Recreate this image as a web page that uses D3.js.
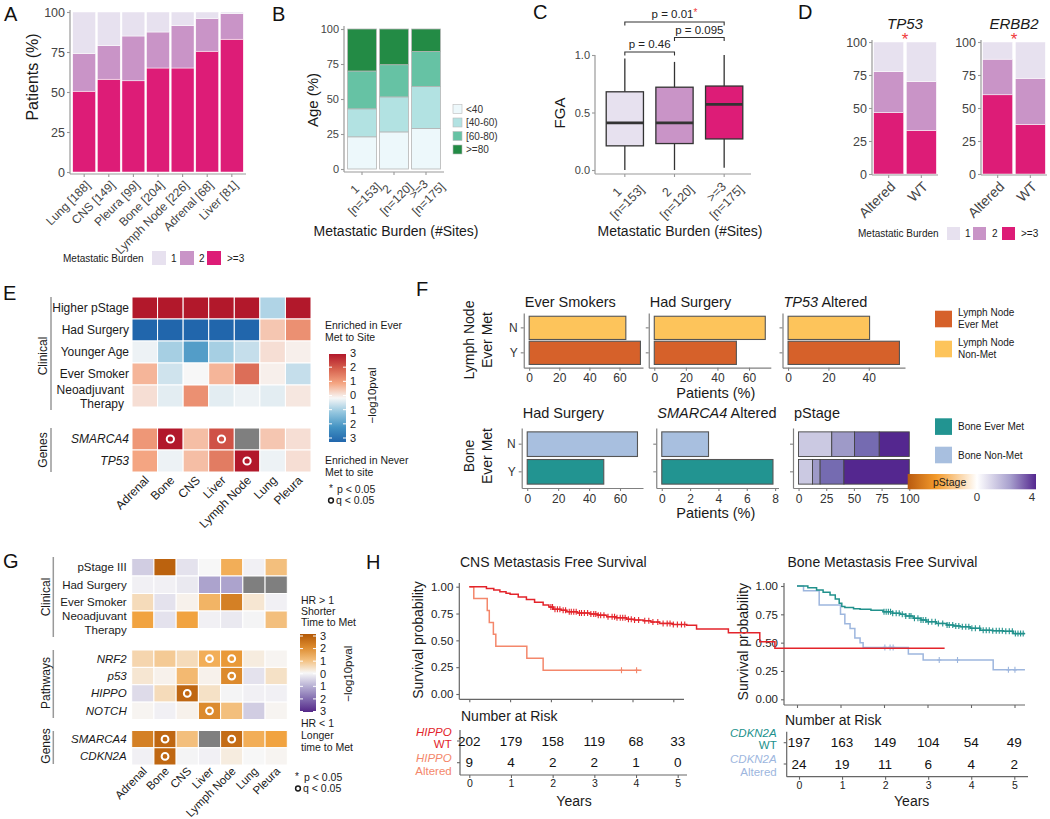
<!DOCTYPE html>
<html><head><meta charset="utf-8">
<script src="https://cdn.jsdelivr.net/npm/d3@7"></script>
<style>
html,body{margin:0;padding:0;background:#fff;}
svg{display:block;font-family:"Liberation Sans",Arial,Helvetica,sans-serif;}
</style></head><body>
<svg id="fig" width="1050" height="819"></svg>
<script>
// ================= DATA =================
const burdenKeys = ["1","2",">=3"];
const burdenColorList = ["#e7e1ef","#c994c7","#dd1c77"];
const pctTicks = [0,25,50,75,100];

// A
const sitesA = ["Lung [188]","CNS [149]","Pleura [99]","Bone [204]","Lymph Node [226]","Adrenal [68]","Liver [81]"];
const aPct1 = [26,21,15,12.5,8.5,4,1];
const aPct2 = [23.5,21,28,22.5,26.5,20.5,16];
const aPct3 = [50.5,58,57,65,65,75.5,83];

// B
const burdenCats = ["1","2",">=3"];
const burdenNs = ["[n=153]","[n=120]","[n=175]"];
const ageKeys = ["<40","[40-60)","[60-80)",">=80"];
const ageColors = ["#edf8fb","#b2e2e2","#66c2a4","#238b45"];
const ageLt40 = [23,26.5,29];
const age40to60 = [20,25,30];
const age60to80 = [27,23,25];
const ageGe80 = [30,25.5,16];

// C
const fgaMin = [0.0,0.0,0.02];
const fgaQ1 = [0.21,0.23,0.27];
const fgaMed = [0.41,0.41,0.57];
const fgaQ3 = [0.68,0.72,0.73];
const fgaMax = [0.97,0.94,1.0];
const fgaTicks = [0,0.5,1];
const pFrom = [0,1,0];
const pTo = [1,2,2];
const pText = ["p = 0.46","p = 0.095","p = 0.01"];
const pSig = [false,false,true];

// D
const genesD = ["TP53","ERBB2"];
const statusD = ["Altered","WT"];
const tp53Pct1 = [22.5,30], tp53Pct2 = [31,37], tp53Pct3 = [46.5,33];
const erbb2Pct1 = [13,27.5], erbb2Pct2 = [27,35], erbb2Pct3 = [60,37.5];

// E
const sitesE = ["Adrenal","Bone","CNS","Liver","Lymph Node","Lung","Pleura"];
const clinRowsE = ["Higher pStage","Had Surgery","Younger Age","Ever Smoker","Neoadjuvant\nTherapy"];
const clinValsE = [
 [3,3,3,3,3,-0.7,3],
 [-3,-3,-3,-3,-3,0.6,1.3],
 [-0.1,-0.8,-1.8,-0.8,-0.5,0.3,0.1],
 [0.8,-0.4,0,0.8,1.8,0.1,-0.5],
 [0.3,-0.2,1.3,-0.2,-0.1,-0.2,0.2]];
const geneRowsE = ["SMARCA4","TP53"];
const geneValsE = [[1.2,3,0.7,2.2,null,0.6,0.3],[1.0,-0.1,0.7,1.6,3,-0.1,0.3]];
const geneSigE = [[0,1,0,1,0,0,0],[0,0,0,0,1,0,0]];
const legendTicks = [3,2,1,0,-1,-2,-3];

// F
const lnPanelTitles = ["Ever Smokers","Had Surgery","TP53 Altered"];
const lnNonMet = [64.2,70.3,40.4];
const lnEverMet = [73.9,52,55.2];
const bonePanelTitles = ["Had Surgery","SMARCA4 Altered","pStage"];
const boneNonMet = [71.3,3.3];
const boneEverMet = [49.5,7.85];
const pstageNonMet = [30,20.6,22.3,27.1];
const pstageEverMet = [12.6,6.9,21.5,59];
const lnColors = ["#fdc45b","#d6612a"];
const boneColors = ["#a8bfdf","#229491"];
const pstageColors = ["#cbc9e2","#9e9ac8","#756bb1","#54278f"];

// G
const clinRowsG = ["pStage III","Had Surgery","Ever Smoker","Neoadjuvant\nTherapy"];
const clinValsG = [
 [-0.6,2.8,-0.3,0,1.3,-0.1,1.0],
 [-0.1,-0.1,-0.2,-1.2,-1.2,null,null],
 [0.5,-0.3,0.1,1.2,2.2,0.3,-0.1],
 [1.5,-0.3,1.5,-0.1,-0.2,-0.05,1.0]];
const pathRowsG = ["NRF2","p53","HIPPO","NOTCH"];
const pathValsG = [
 [0.6,0.8,0.5,1.3,1.7,0.2,0.05],
 [0.3,0.1,1.1,0.1,2.0,-0.3,0.4],
 [-0.4,0.5,2.7,0.4,-0.05,-0.1,-0.1],
 [0.05,-0.1,0.1,2.0,1.0,-0.6,0.05]];
const pathSigG = [[0,0,0,1,1,0,0],[0,0,0,0,1,0,0],[0,0,1,0,0,0,0],[0,0,0,1,0,0,0]];
const geneRowsG = ["SMARCA4","CDKN2A"];
const geneValsG = [[2.2,2.7,1.0,null,2.6,1.3,1.5],[-0.1,2.7,-0.05,-0.1,0.2,0,0.05]];
const geneSigG = [[0,1,0,0,1,0,0],[0,1,0,0,0,0,0]];

// H
const riskYears = [0,1,2,3,4,5];
const survTicks = [0,0.25,0.5,0.75,1];
const cnsWtTimes = [0,0.42,0.6,0.75,0.9,1.0,1.2,1.4,1.6,1.81,1.95,2.06,2.25,2.39,2.65,2.96,3.15,3.37,3.6,3.86,4.05,4.26,4.45,4.67,5.0,5.33,5.57,6.35,7.12,7.49,11.65];
const cnsWtSurv = [1.0,0.984,0.97,0.953,0.94,0.93,0.905,0.88,0.855,0.83,0.81,0.79,0.78,0.767,0.755,0.745,0.735,0.72,0.71,0.696,0.69,0.683,0.67,0.658,0.648,0.64,0.606,0.571,0.487,0.426,0.426];
const cnsWtCens = [2.0,2.04,2.1,2.16,2.22,2.3,2.36,2.45,2.5,2.56,2.62,2.7,2.75,2.82,2.9,2.98,3.05,3.1,3.16,3.22,3.3,3.4,3.5,3.56,3.62,3.7,3.76,3.82,3.9,3.97,4.05,4.15,4.3,4.4,4.5,4.62,4.75,4.85,4.92,5.0,5.1,5.2,5.28];
const cnsAltTimes = [0,0.11,0.44,0.49,0.59,0.65,1.41,1.81,4.22];
const cnsAltSurv = [1,0.889,0.778,0.667,0.556,0.444,0.333,0.222,0.222];
const cnsAltCens = [3.73,4.1];
const cnsRiskWT = [202,179,158,119,68,33];
const cnsRiskAlt = [9,4,2,2,1,0];
const boneWtTimes = [0,0.25,0.45,0.6,0.76,0.88,0.97,1.03,1.1,1.3,1.45,1.7,1.98,2.2,2.37,2.5,2.67,2.85,2.98,3.2,3.44,3.6,3.75,3.98,4.21,4.5,4.74,4.97,5.24];
const boneWtSurv = [1,0.985,0.965,0.945,0.92,0.885,0.847,0.82,0.81,0.8,0.794,0.785,0.773,0.76,0.75,0.735,0.715,0.7,0.685,0.67,0.656,0.648,0.64,0.627,0.61,0.605,0.6,0.58,0.58];
const boneWtCens = [2.0,2.05,2.1,2.15,2.2,2.28,2.35,2.42,2.5,2.58,2.62,2.7,2.78,2.85,2.9,2.96,3.02,3.1,3.18,3.25,3.35,3.45,3.5,3.58,3.65,3.72,3.8,3.88,3.95,4.02,4.1,4.2,4.28,4.35,4.42,4.5,4.58,4.65,4.72,4.8,4.88,4.95,5.02,5.08,5.14,5.2];
const boneAltTimes = [0,0.15,0.51,1.0,1.1,1.22,1.33,1.45,1.52,2.56,2.9,4.51,5.24];
const boneAltSurv = [1,0.958,0.833,0.75,0.667,0.625,0.542,0.5,0.458,0.4,0.347,0.26,0.26];
const boneAltCens = [2.02,2.14,2.21,3.27,3.69,4.86,5.01];
const boneRiskWT = [197,163,149,104,54,49];
const boneRiskAlt = [24,19,11,6,4,2];

// ================= HELPERS =================
const svg = d3.select("#fig");
svg.append("rect").attr("width",1050).attr("height",819).attr("fill","#fff");
const defs = svg.append("defs");
const TXT = "#444", AX = "#999", BLK = "#1a1a1a";

function T(g,x,y,s,o={}){
  const t = g.append("text").attr("x",x).attr("y",y).text(s)
    .attr("font-size",o.size||12).attr("fill",o.fill||BLK)
    .attr("text-anchor",o.anchor||"start");
  if(o.dy) t.attr("dy",o.dy);
  if(o.italic) t.attr("font-style","italic");
  if(o.rotate!=null) t.attr("transform",`rotate(${o.rotate},${x},${y})`);
  return t;
}
function L(g,x1,y1,x2,y2,c,w){
  return g.append("line").attr("x1",x1).attr("y1",y1).attr("x2",x2).attr("y2",y2)
    .attr("stroke",c||AX).attr("stroke-width",w||1);
}
function styleAxis(a,fs,col,lc){
  a.attr("font-family",null).attr("font-size",fs);
  a.select(".domain").attr("stroke",lc).attr("stroke-width",1.2);
  a.selectAll(".tick line").attr("stroke",lc).attr("stroke-width",1.1);
  a.selectAll(".tick text").attr("fill",col);
  return a;
}
function vGrad(id,colors){
  const lg = defs.append("linearGradient").attr("id",id).attr("x1",0).attr("y1",0).attr("x2",0).attr("y2",1);
  colors.forEach((c,i)=>lg.append("stop").attr("offset",i/(colors.length-1)).attr("stop-color",c));
}
function twoLineTicks(ax,second,dx,dy){
  ax.selectAll(".tick text").each(function(d,i){
    const t = d3.select(this);
    t.text(null).attr("x",0).attr("y",0).attr("dy",null).attr("text-anchor","middle");
    t.append("tspan").attr("x",0).attr("dy","0.8em").text(d);
    t.append("tspan").attr("x",0).attr("dy","1.15em").text(second[i]);
    const w = this.getBBox().width;
    t.attr("transform",`translate(${dx},${dy}) rotate(-45) translate(${-w/2},0)`);
  });
}
function stackBars(g,keys,colors,rows,x,y,stroke,sw){
  const st = d3.stack().keys(keys)(rows);
  g.append("g").selectAll("g").data(st).join("g").attr("fill",d=>colors[keys.indexOf(d.key)])
    .selectAll("rect").data(d=>d).join("rect")
    .attr("x",d=>x(d.data.k)).attr("width",x.bandwidth())
    .attr("y",d=>y(d[1])).attr("height",d=>y(d[0])-y(d[1]))
    .attr("stroke",stroke).attr("stroke-width",sw);
}
function panelLabel(x,y,s){ T(svg,x,y,s,{size:20,fill:"#111"}); }

panelLabel(4,21,"A"); panelLabel(272,21,"B"); panelLabel(533,19,"C"); panelLabel(798,19,"D");
panelLabel(3,300,"E"); panelLabel(416,296,"F"); panelLabel(3,568,"G"); panelLabel(366,569,"H");

// ================= PANEL A =================
{
  const g = svg.append("g");
  const x = d3.scaleBand().domain(sitesA).range([72,244]).paddingInner(0.07).paddingOuter(0.03);
  const y = d3.scaleLinear().domain([0,100]).range([172,12]);
  const rows = sitesA.map((s,i)=>({k:s,"1":aPct1[i],"2":aPct2[i],">=3":aPct3[i]}));
  stackBars(g,[">=3","2","1"],[burdenColorList[2],burdenColorList[1],burdenColorList[0]],rows,x,y,"#fff",0.5);
  const ya = g.append("g").attr("transform","translate(70,0)").call(d3.axisLeft(y).tickValues(pctTicks).tickSize(3).tickPadding(2));
  styleAxis(ya,12.5,TXT,AX); ya.select(".domain").remove();
  L(g,70,10,70,174,AX,1.2);
  const xa = g.append("g").attr("transform","translate(0,174)").call(d3.axisBottom(x).tickSize(3).tickSizeOuter(0));
  styleAxis(xa,12,TXT,AX); xa.select(".domain").remove();
  L(g,70,174,246,174,AX,1.2);
  xa.selectAll(".tick text").attr("text-anchor","end").attr("x",0).attr("y",0).attr("dy","0.35em")
    .attr("transform","translate(4,9) rotate(-45)");
  T(g,32,77,"Patients (%)",{size:16,anchor:"middle",rotate:-90,dy:"0.35em"});
  T(g,63,258,"Metastatic Burden",{size:10,dy:"0.35em"});
  const lx=[152,180,207], ltx=[171,199,227];
  burdenKeys.forEach((k,i)=>{
    g.append("rect").attr("x",lx[i]).attr("y",251).attr("width",14).attr("height",14).attr("fill",burdenColorList[i]);
    T(g,ltx[i],258,k,{size:10,dy:"0.35em"});
  });
}

// ================= PANEL B =================
{
  const g = svg.append("g");
  const x = d3.scaleBand().domain(burdenCats).range([346,442]).paddingInner(0.1).paddingOuter(0.05);
  const y = d3.scaleLinear().domain([0,100]).range([169,29]);
  const rows = burdenCats.map((c,i)=>({k:c,"<40":ageLt40[i],"[40-60)":age40to60[i],"[60-80)":age60to80[i],">=80":ageGe80[i]}));
  stackBars(g,ageKeys,ageColors,rows,x,y,"#b5b5b5",0.8);
  const ya = g.append("g").attr("transform","translate(344,0)").call(d3.axisLeft(y).tickValues(pctTicks).tickSize(3).tickPadding(2));
  styleAxis(ya,11,TXT,AX); ya.select(".domain").remove();
  L(g,344,26,344,172,AX,1.2);
  const xa = g.append("g").attr("transform","translate(0,172)").call(d3.axisBottom(x).tickSize(3).tickSizeOuter(0));
  styleAxis(xa,12,TXT,AX); xa.select(".domain").remove();
  L(g,344,172,444,172,AX,1.2);
  twoLineTicks(xa,burdenNs,3,-1);
  T(g,313,100,"Age (%)",{size:15,anchor:"middle",rotate:-90,dy:"0.35em"});
  T(g,396,231,"Metastatic Burden (#Sites)",{size:14,anchor:"middle",dy:"0.35em"});
  const ly=[104.5,118,131.5,145];
  ageKeys.forEach((k,i)=>{
    g.append("rect").attr("x",453).attr("y",ly[i]).attr("width",9).attr("height",9).attr("fill",ageColors[i]).attr("stroke","#bbb").attr("stroke-width",0.6);
    T(g,466,ly[i]+4.5,k,{size:10,dy:"0.35em",fill:"#333"});
  });
}

// ================= PANEL C =================
{
  const g = svg.append("g");
  const x = d3.scaleBand().domain(burdenCats).range([600,749]).paddingInner(0.25).paddingOuter(0.125);
  const y = d3.scaleLinear().domain([0,1]).range([170,55]);
  const boxes = burdenCats.map((c,i)=>({c,i,min:fgaMin[i],q1:fgaQ1[i],med:fgaMed[i],q3:fgaQ3[i],max:fgaMax[i]}));
  const cx = d=>x(d.c)+x.bandwidth()/2;
  g.selectAll(".wl").data(boxes).join("line").attr("x1",cx).attr("x2",cx).attr("y1",d=>y(d.min)).attr("y2",d=>y(d.q1)).attr("stroke","#333").attr("stroke-width",1.3);
  g.selectAll(".wu").data(boxes).join("line").attr("x1",cx).attr("x2",cx).attr("y1",d=>y(d.q3)).attr("y2",d=>y(d.max)).attr("stroke","#333").attr("stroke-width",1.3);
  g.selectAll(".bx").data(boxes).join("rect").attr("x",d=>x(d.c)).attr("width",x.bandwidth())
    .attr("y",d=>y(d.q3)).attr("height",d=>y(d.q1)-y(d.q3)).attr("fill",d=>burdenColorList[d.i]).attr("stroke","#333").attr("stroke-width",1.3);
  g.selectAll(".md").data(boxes).join("line").attr("x1",d=>x(d.c)).attr("x2",d=>x(d.c)+x.bandwidth()).attr("y1",d=>y(d.med)).attr("y2",d=>y(d.med)).attr("stroke","#333").attr("stroke-width",2.8);
  const ya = g.append("g").attr("transform","translate(595,0)").call(d3.axisLeft(y).tickValues(fgaTicks).tickFormat(d3.format(".1f")).tickSize(3).tickPadding(2));
  styleAxis(ya,11,TXT,AX); ya.select(".domain").remove();
  L(g,595,55,595,174,AX,1.2);
  const xa = g.append("g").attr("transform","translate(0,174)").call(d3.axisBottom(x).tickSize(3).tickSizeOuter(0));
  styleAxis(xa,12.5,TXT,AX); xa.select(".domain").remove();
  L(g,595,174,751,174,AX,1.2);
  twoLineTicks(xa,burdenNs,3,-1);
  T(g,560,113,"FGA",{size:15,anchor:"middle",rotate:-90,dy:"0.35em"});
  T(g,680,231,"Metastatic Burden (#Sites)",{size:14,anchor:"middle",dy:"0.35em"});
  const by=[52,37.5,22];
  pText.forEach((s,k)=>{
    const x1 = x(burdenCats[pFrom[k]])+x.bandwidth()/2, x2 = x(burdenCats[pTo[k]])+x.bandwidth()/2;
    g.append("path").attr("d",`M${x1},${by[k]+3.5}V${by[k]}H${x2}V${by[k]+3.5}`).attr("fill","none").attr("stroke","#333").attr("stroke-width",1.1);
    const t = T(g,(x1+x2)/2,by[k]-4,s,{size:11.5,anchor:"middle",fill:"#222"});
    if(pSig[k]) t.append("tspan").attr("fill","#f03b3b").attr("font-size",10).attr("dy","-2").text("*");
  });
}

// ================= PANEL D =================
function panelD(g,o){
  const x = d3.scaleBand().domain(statusD).range(o.xr).paddingInner(0.08).paddingOuter(0.02);
  const y = d3.scaleLinear().domain([0,100]).range([174,42]);
  const rows = statusD.map((s,i)=>({k:s,"1":o.p1[i],"2":o.p2[i],">=3":o.p3[i]}));
  stackBars(g,[">=3","2","1"],[burdenColorList[2],burdenColorList[1],burdenColorList[0]],rows,x,y,"#fff",0.5);
  const ya = g.append("g").attr("transform",`translate(${o.ax},0)`).call(d3.axisLeft(y).tickValues(pctTicks).tickSize(3).tickPadding(2));
  styleAxis(ya,12.5,TXT,AX); ya.select(".domain").remove();
  L(g,o.ax,40,o.ax,175,AX,1.2);
  const xa = g.append("g").attr("transform","translate(0,175)").call(d3.axisBottom(x).tickSize(3).tickSizeOuter(0));
  styleAxis(xa,14,TXT,AX); xa.select(".domain").remove();
  L(g,o.ax,175,o.xr[1]+1,175,AX,1.2);
  xa.selectAll(".tick text").attr("text-anchor","end").attr("x",0).attr("y",0).attr("dy","0.35em")
    .attr("transform","translate(4,9) rotate(-45)");
  const tx = (o.xr[0]+o.xr[1])/2;
  T(g,tx,28.5,o.gene,{size:15,anchor:"middle",italic:true});
  T(g,tx,45,"*",{size:17,anchor:"middle",fill:"#f03b3b"});
}
panelD(svg.append("g"),{gene:genesD[0],p1:tp53Pct1,p2:tp53Pct2,p3:tp53Pct3,ax:872,xr:[873,937]});
panelD(svg.append("g"),{gene:genesD[1],p1:erbb2Pct1,p2:erbb2Pct2,p3:erbb2Pct3,ax:981,xr:[982,1046]});
{
  const g = svg.append("g");
  T(g,858,233,"Metastatic Burden",{size:10,dy:"0.35em"});
  const lx=[947,973,1002], ltx=[965,992,1021];
  burdenKeys.forEach((k,i)=>{
    g.append("rect").attr("x",lx[i]).attr("y",227).attr("width",13).attr("height",13).attr("fill",burdenColorList[i]);
    T(g,ltx[i],233,k,{size:10,dy:"0.35em"});
  });
}

// ================= HEATMAPS (E, G) =================
function heatmap(g,o){
  const x = d3.scaleBand().domain(o.cols).range(o.colRange);
  o.groups.forEach(gr=>{
    const y = d3.scaleBand().domain(gr.rows).range(gr.range);
    const cells = [];
    gr.rows.forEach((r,i)=>o.cols.forEach((c,j)=>cells.push({r,c,v:gr.vals[i][j],s:gr.sig?gr.sig[i][j]:0})));
    const gg = g.append("g");
    gg.selectAll("rect").data(cells).join("rect")
      .attr("x",d=>x(d.c)).attr("y",d=>y(d.r)).attr("width",x.bandwidth()).attr("height",y.bandwidth())
      .attr("fill",d=>d.v==null?"#7f7f7f":o.color(d.v)).attr("stroke","#fff").attr("stroke-width",1);
    gg.selectAll("circle").data(cells.filter(d=>d.s)).join("circle")
      .attr("cx",d=>x(d.c)+x.bandwidth()/2).attr("cy",d=>y(d.r)+y.bandwidth()/2).attr("r",o.r)
      .attr("fill","none").attr("stroke","#fff").attr("stroke-width",2);
    gr.rows.forEach(r=>{
      const lines = r.split("\n"); const cy = y(r)+y.bandwidth()/2;
      if(lines.length===1) T(g,o.labelRight,cy,r,{size:o.fs,anchor:"end",dy:"0.35em",italic:gr.italic});
      else lines.forEach((ln,k)=>T(g,o.twoLineX,cy+o.twoLineOff[k],ln,{size:o.fs,anchor:"end",dy:"0.35em"}));
    });
    L(g,o.groupLineX,gr.line[0],o.groupLineX,gr.line[1],"#999",1.5);
    T(g,o.groupTextX,gr.titleY,gr.title,{size:o.gfs,anchor:"middle",rotate:-90,dy:"0.35em"});
  });
  o.cols.forEach(c=>{
    const cx = x(c)+x.bandwidth()/2;
    g.append("text").attr("text-anchor","end").attr("font-size",o.colFs).attr("fill",BLK).attr("dy","0.35em")
      .attr("transform",`translate(${cx+o.colDx},${o.colY}) rotate(-45)`).text(c);
  });
}
function colorLegend(g,o){
  g.append("rect").attr("x",o.x).attr("y",o.y0).attr("width",o.w).attr("height",o.y1-o.y0).attr("fill",`url(#${o.grad})`);
  const ly = d3.scaleLinear().domain([3,-3]).range(o.lr);
  legendTicks.forEach(v=>{
    L(g,o.x,ly(v),o.x+3,ly(v),"#fff",1); L(g,o.x+o.w-3,ly(v),o.x+o.w,ly(v),"#fff",1);
    T(g,o.x+o.w+4,ly(v),String(Math.abs(v)),{size:11,dy:"0.35em",fill:"#222"});
  });
  T(g,o.tx,(o.lr[0]+o.lr[1])/2,"\u2212log10pval",{size:11.5,anchor:"middle",rotate:-90,dy:"0.35em"});
}

// ---- E ----
const colorE = d3.scaleLinear().domain([-3,-2,-1,0,1,2,3])
  .range(["#2166ac","#4393c3","#92c5de","#f7f7f7","#f4a582","#d6604d","#b2182b"]).clamp(true);
vGrad("gE",legendTicks.map(v=>colorE(v)));
{
  const g = svg.append("g");
  heatmap(g,{cols:sitesE,colRange:[132,311],color:colorE,r:3.6,fs:12,labelRight:129,twoLineX:124,twoLineOff:[-6,8],
    groups:[
      {title:"Clinical",rows:clinRowsE,vals:clinValsE,sig:null,range:[297,407],italic:false,line:[297,410],titleY:356},
      {title:"Genes",rows:geneRowsE,vals:geneValsE,sig:geneSigE,range:[428,472],italic:true,line:[428,472],titleY:450}],
    groupTextX:43,groupLineX:51,gfs:12,colDx:2,colY:478,colFs:12});
  T(g,325,325,"Enriched in Ever",{size:10.5,dy:"0.35em"});
  T(g,325,337,"Met to Site",{size:10.5,dy:"0.35em"});
  colorLegend(g,{x:329,w:17,y0:354,y1:442,lr:[353,438],grad:"gE",tx:372});
  T(g,325,460,"Enriched in Never",{size:10.5,dy:"0.35em"});
  T(g,325,472,"Met to site",{size:10.5,dy:"0.35em"});
  T(g,331,492,"*",{size:10,anchor:"middle"}); T(g,337,489,"p < 0.05",{size:10.5,dy:"0.35em"});
  g.append("circle").attr("cx",331).attr("cy",500.5).attr("r",2.4).attr("fill","none").attr("stroke",BLK).attr("stroke-width",1.5);
  T(g,336,500,"q < 0.05",{size:10.5,dy:"0.35em"});
}

// ---- G ----
const colorG = d3.scaleLinear().domain([-3,-1.5,0,1.5,3])
  .range(["#542788","#998ec3","#f7f7f7","#f1a340","#b35806"]).clamp(true);
vGrad("gG",legendTicks.map(v=>colorG(v)));
{
  const g = svg.append("g");
  heatmap(g,{cols:sitesE,colRange:[131.7,287.3],color:colorG,r:3.4,fs:11.5,labelRight:126.7,twoLineX:126.7,twoLineOff:[-3.5,10],
    groups:[
      {title:"Clinical",rows:clinRowsG,vals:clinValsG,sig:null,range:[558.5,628.5],italic:false,line:[557,637],titleY:597},
      {title:"Pathways",rows:pathRowsG,vals:pathValsG,sig:pathSigG,range:[650,719.5],italic:true,line:[650,718],titleY:683},
      {title:"Genes",rows:geneRowsG,vals:geneValsG,sig:geneSigG,range:[730.5,765],italic:true,line:[731,764],titleY:746}],
    groupTextX:46,groupLineX:53.3,gfs:12,colDx:2,colY:769,colFs:11.5});
  T(g,301,600,"HR > 1",{size:10.5,dy:"0.35em"});
  T(g,301,611,"Shorter",{size:10.5,dy:"0.35em"});
  T(g,301,622,"Time to Met",{size:10.5,dy:"0.35em"});
  colorLegend(g,{x:300,w:16,y0:634,y1:712,lr:[636,711.5],grad:"gG",tx:348});
  T(g,301,723,"HR < 1",{size:10.5,dy:"0.35em"});
  T(g,301,735,"Longer",{size:10.5,dy:"0.35em"});
  T(g,301,747,"time to Met",{size:10.5,dy:"0.35em"});
  T(g,297,780,"*",{size:10,anchor:"middle"}); T(g,304,777,"p < 0.05",{size:10.5,dy:"0.35em"});
  g.append("circle").attr("cx",298).attr("cy",788.5).attr("r",2.4).attr("fill","none").attr("stroke",BLK).attr("stroke-width",1.5);
  T(g,303,788,"q < 0.05",{size:10.5,dy:"0.35em"});
}

// ================= PANEL F =================
function hbar(g,o){
  const x = d3.scaleLinear().domain(o.domain).range([o.ax,o.ax1]);
  const y = d3.scaleBand().domain(["N","Y"]).range(o.yr).paddingInner(o.pi).paddingOuter(o.po);
  if(o.stack){
    const rows = [{k:"N"},{k:"Y"}];
    o.stack[0].forEach((v,i)=>{ rows[0]["s"+i]=o.stack[0][i]; rows[1]["s"+i]=o.stack[1][i]; });
    const keys = o.stack[0].map((v,i)=>"s"+i);
    const st = d3.stack().keys(keys)(rows);
    g.append("g").selectAll("g").data(st).join("g").attr("fill",(d,i)=>o.stackColors[i])
      .selectAll("rect").data(d=>d).join("rect")
      .attr("y",d=>y(d.data.k)).attr("height",y.bandwidth())
      .attr("x",d=>x(d[0])).attr("width",d=>x(d[1])-x(d[0]))
      .attr("stroke","#444").attr("stroke-width",0.9);
  } else {
    const bars = [{k:"N",v:o.vals[0],c:o.colors[0]},{k:"Y",v:o.vals[1],c:o.colors[1]}];
    g.selectAll(".hb").data(bars).join("rect")
      .attr("y",d=>y(d.k)).attr("height",y.bandwidth())
      .attr("x",x(0)).attr("width",d=>x(d.v)-x(0))
      .attr("fill",d=>d.c).attr("stroke","#555").attr("stroke-width",1.1);
  }
  const xa = g.append("g").attr("transform",`translate(0,${o.yr[1]})`).call(d3.axisBottom(x).tickValues(o.ticks).tickSize(3).tickSizeOuter(0).tickPadding(3));
  styleAxis(xa,12,"#333","#808080");
  const ya = g.append("g").attr("transform",`translate(${o.ax},0)`).call(d3.axisLeft(y).tickSize(3).tickSizeOuter(0).tickPadding(3));
  styleAxis(ya,12,"#333","#808080");
  if(!o.showY) ya.selectAll(".tick text").remove();
  const t = T(g,o.ax+1,o.ty,"",{size:14.5});
  const parts = o.title.split(" ");
  if(o.italicFirst){
    t.append("tspan").attr("font-style","italic").text(parts[0]);
    t.append("tspan").text(" "+parts.slice(1).join(" "));
  } else t.text(o.title);
}
{
  const g = svg.append("g");
  const topY=[313,367.7], botY=[428,488];
  hbar(g,{title:lnPanelTitles[0],ax:523.75,ax1:643,domain:[-3.6,75.6],ticks:[0,20,40,60],yr:topY,pi:0.07,po:0.13,vals:[lnNonMet[0],lnEverMet[0]],colors:lnColors,showY:true,ty:307});
  hbar(g,{title:lnPanelTitles[1],ax:648.75,ax1:770.8,domain:[-3.5,73.8],ticks:[0,20,40,60],yr:topY,pi:0.07,po:0.13,vals:[lnNonMet[1],lnEverMet[1]],colors:lnColors,ty:307});
  hbar(g,{title:lnPanelTitles[2],italicFirst:true,ax:782.5,ax1:905,domain:[-2.76,57.96],ticks:[0,20,40],yr:topY,pi:0.07,po:0.13,vals:[lnNonMet[2],lnEverMet[2]],colors:lnColors,ty:307});
  hbar(g,{title:bonePanelTitles[0],ax:521.7,ax1:643,domain:[-3.57,74.87],ticks:[0,20,40,60],yr:botY,pi:0.11,po:0.14,vals:[boneNonMet[0],boneEverMet[0]],colors:boneColors,showY:true,ty:418});
  hbar(g,{title:bonePanelTitles[1],italicFirst:true,ax:656.25,ax1:778.5,domain:[-0.39,8.24],ticks:[0,2,4,6,8],yr:botY,pi:0.11,po:0.14,vals:[boneNonMet[1],boneEverMet[1]],colors:boneColors,ty:418});
  hbar(g,{title:bonePanelTitles[2],ax:793,ax1:914.8,domain:[-5,105],ticks:[0,25,50,75,100],yr:botY,pi:0.11,po:0.14,stack:[pstageNonMet,pstageEverMet],stackColors:pstageColors,ty:418});
  T(g,715.8,393,"Patients (%)",{size:14.5,anchor:"middle",dy:"0.35em"});
  T(g,715.8,513,"Patients (%)",{size:14.5,anchor:"middle",dy:"0.35em"});
  T(g,468.75,340,"Lymph Node",{size:14,anchor:"middle",rotate:-90,dy:"0.35em"});
  T(g,486.7,340,"Ever Met",{size:14,anchor:"middle",rotate:-90,dy:"0.35em"});
  T(g,468.75,456,"Bone",{size:14,anchor:"middle",rotate:-90,dy:"0.35em"});
  T(g,486.7,456,"Ever Met",{size:14,anchor:"middle",rotate:-90,dy:"0.35em"});
  const lg = [[lnColors[1],310.7,["Lymph Node","Ever Met"]],[lnColors[0],340.7,["Lymph Node","Non-Met"]]];
  lg.forEach(d=>{
    g.append("rect").attr("x",935).attr("y",d[1]).attr("width",17).attr("height",16.6).attr("fill",d[0]);
    T(g,958,d[1]+2,d[2][0],{size:10,dy:"0.35em"});
    T(g,958,d[1]+14,d[2][1],{size:10,dy:"0.35em"});
  });
  const bg = [[boneColors[1],418.3,"Bone Ever Met"],[boneColors[0],446.7,"Bone Non-Met"]];
  bg.forEach(d=>{
    g.append("rect").attr("x",935).attr("y",d[1]).attr("width",17).attr("height",16.6).attr("fill",d[0]);
    T(g,958,d[1]+8.5,d[2],{size:10,dy:"0.35em"});
  });
  const hg = defs.append("linearGradient").attr("id","gPS").attr("x1",0).attr("x2",1).attr("y1",0).attr("y2",0);
  [[0,"#b95a10"],[0.22,"#f39a2b"],[0.54,"#ffffff"],[0.8,"#a79fcd"],[1,"#54278f"]].forEach(s=>hg.append("stop").attr("offset",s[0]).attr("stop-color",s[1]));
  g.append("rect").attr("x",907.7).attr("y",474).attr("width",128.3).attr("height",15.3).attr("fill","url(#gPS)");
  T(g,933,482,"pStage",{size:10.5,dy:"0.35em"});
  T(g,977,497,"0",{size:11.5,anchor:"middle",dy:"0.35em",fill:"#333"});
  T(g,1032,497,"4",{size:11.5,anchor:"middle",dy:"0.35em",fill:"#333"});
}

// ================= PANEL H =================
function survAt(times,surv,t){ let s=surv[0]; for(let i=0;i<times.length;i++){ if(times[i]<=t) s=surv[i]; } return s; }
function km(g,o){
  const x = d3.scaleLinear().domain([0,5]).range(o.xr);
  const y = d3.scaleLinear().domain([0,1]).range(o.yr);
  const ya = g.append("g").attr("transform",`translate(${o.ax},0)`).call(d3.axisLeft(y).tickValues(survTicks).tickFormat(d3.format(".2f")).tickSize(3).tickPadding(3));
  styleAxis(ya,11.5,"#222","#666"); ya.select(".domain").remove();
  L(g,o.ax,o.axTop,o.ax,o.axBottom,"#666",1.2);
  const xa = g.append("g").attr("transform",`translate(0,${o.axBottom})`).call(d3.axisBottom(x).tickValues(riskYears).tickFormat("").tickSize(3));
  styleAxis(xa,10,"#222","#666"); xa.select(".domain").remove();
  L(g,o.ax,o.axBottom,o.axRight,o.axBottom,"#666",1.2);
  T(g,o.titleX,567,o.title,{size:14});
  T(g,o.ytx,o.yty,"Survival probability",{size:14,anchor:"middle",rotate:-90,dy:"0.35em"});
  const xt = d3.scaleLinear().domain([0,5]).range(o.txr);
  T(g,o.nx,o.ny,"Number at Risk",{size:14,dy:"0.35em"});
  L(g,o.tax,o.tTop,o.tax,o.tBot,"#666",1.2);
  L(g,o.tax,o.tBot,o.tRight,o.tBot,"#666",1.2);
  const ta = g.append("g").attr("transform",`translate(0,${o.tBot})`).call(d3.axisBottom(xt).tickValues(riskYears).tickFormat(d3.format("d")).tickSize(3).tickPadding(2));
  styleAxis(ta,10.5,"#222","#666"); ta.select(".domain").remove();
  o.risk.forEach((arr,k)=>{
    L(g,o.tax-3,o.rowY[k],o.tax,o.rowY[k],"#666",1.1);
    g.append("g").selectAll("text").data(arr).join("text")
      .attr("x",(d,i)=>xt(riskYears[i])).attr("y",o.rowY[k]).attr("dy","0.35em")
      .attr("text-anchor","middle").attr("font-size",13.5).attr("fill","#111").text(d=>d);
  });
  o.rowLabels.forEach((lab,k)=>{
    T(g,o.lx,o.labY[k][0],o.gene,{size:11.5,anchor:"end",dy:"0.35em",italic:true,fill:o.colors[k]});
    T(g,o.lx,o.labY[k][1],lab,{size:11.5,anchor:"end",dy:"0.35em",fill:o.colors[k]});
  });
  T(g,o.yearsX,800.7,"Years",{size:14,anchor:"middle",dy:"0.35em"});
  return {x,y};
}
function drawCurves(g,sc,curves){
  curves.forEach(c=>{
    const pts = c.times.map((t,i)=>[t,c.surv[i]]);
    g.append("path").attr("d",d3.line().x(d=>sc.x(d[0])).y(d=>sc.y(d[1])).curve(d3.curveStepAfter)(pts))
      .attr("fill","none").attr("stroke",c.color).attr("stroke-width",1.5);
    g.append("g").selectAll("path").data(c.cens).join("path")
      .attr("d",t=>{const X=sc.x(t),Y=sc.y(survAt(c.times,c.surv,t)); return `M${X},${Y-3}V${Y+3}M${X-2},${Y}H${X+2}`;})
      .attr("stroke",c.color).attr("stroke-width",1.1).attr("fill","none");
  });
}
const cnsColors = ["#e3242b","#f4876b"];
const boneKmColors = ["#21918c","#9db6de"];
{
  const gB = svg.append("g");
  const scB = km(gB,{title:"Bone Metastasis Free Survival",titleX:787.5,xr:[797,1014.5],yr:[699.3,586],ax:784,axTop:583,axBottom:705,axRight:1025,
    ytx:743,yty:641.7,nx:785,ny:720,tax:786.7,tTop:731.7,tBot:776.7,tRight:1028,txr:[799,1014.3],
    risk:[boneRiskWT,boneRiskAlt],rowY:[742.7,764],gene:"CDKN2A",rowLabels:["WT","Altered"],lx:776.7,
    labY:[[733.3,745],[759,772.3]],colors:boneKmColors,yearsX:911.7});
  drawCurves(gB,scB,[
    {times:boneAltTimes,surv:boneAltSurv,cens:boneAltCens,color:boneKmColors[1]},
    {times:boneWtTimes,surv:boneWtSurv,cens:boneWtCens,color:boneKmColors[0]}]);
  const gC = svg.append("g");
  const scC = km(gC,{title:"CNS Metastasis Free Survival",titleX:460,xr:[469.3,673.3],yr:[694,586.7],ax:459.3,axTop:583,axBottom:699.3,axRight:684,
    ytx:418,yty:640,nx:461,ny:716,tax:460,tTop:730,tBot:775,tRight:687,txr:[469.3,677.7],
    risk:[cnsRiskWT,cnsRiskAlt],rowY:[741,762.7],gene:"HIPPO",rowLabels:["WT","Altered"],lx:451.7,
    labY:[[731.7,744],[758,771]],colors:cnsColors,yearsX:574});
  drawCurves(gC,scC,[
    {times:cnsAltTimes,surv:cnsAltSurv,cens:cnsAltCens,color:cnsColors[1]},
    {times:cnsWtTimes,surv:cnsWtSurv,cens:cnsWtCens,color:cnsColors[0]}]);
}
</script>
</body></html>
